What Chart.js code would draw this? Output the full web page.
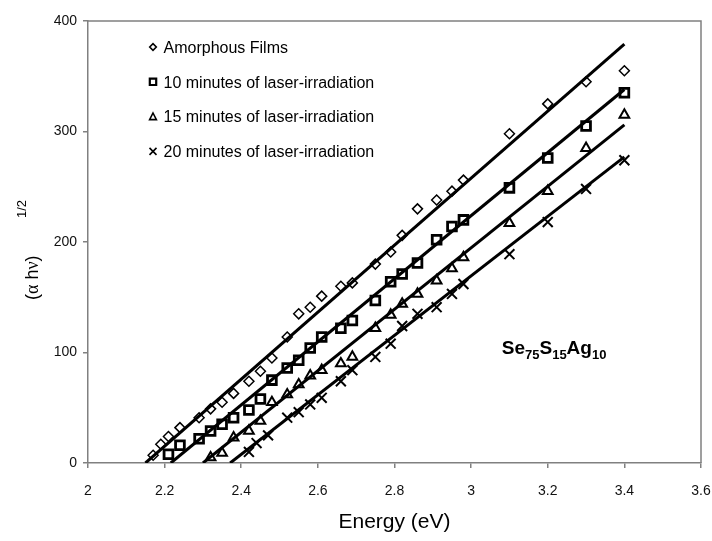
<!DOCTYPE html>
<html>
<head>
<meta charset="utf-8">
<script src="https://cdn.jsdelivr.net/npm/chart.js"></script>
<style>
  html, body { margin: 0; padding: 0; background: #fff; }
  #wrap { width: 712px; height: 541px; }
</style>
</head>
<body>
<div id="wrap"><canvas id="chart" width="712" height="541"></canvas></div>
<script>
// Energy (eV) and (alpha h nu)^1/2
const amorphX = [2.17, 2.19, 2.21, 2.24, 2.29, 2.32, 2.35, 2.38, 2.42, 2.45, 2.48, 2.52, 2.55, 2.58,
    2.61, 2.66, 2.69, 2.75, 2.79, 2.82, 2.86, 2.91, 2.95, 2.98, 3.1, 3.2, 3.3, 3.4];
const amorphY = [7, 17, 24, 32, 41, 49, 55, 63, 74, 83, 95, 114, 135, 141,
    151, 160, 163, 180, 191, 206, 230, 238, 246, 256, 298, 325, 345, 355];

const min10X = [2.21, 2.24, 2.29, 2.32, 2.35, 2.38, 2.42, 2.45, 2.48, 2.52, 2.55, 2.58, 2.61,
    2.66, 2.69, 2.75, 2.79, 2.82, 2.86, 2.91, 2.95, 2.98, 3.1, 3.2, 3.3, 3.4];
const min10Y = [8, 16, 22, 29, 35, 41, 48, 58, 75, 86, 93, 104, 114,
    122, 129, 147, 164, 171, 181, 202, 214, 220, 249, 276, 305, 335];

const min15X = [2.32, 2.35, 2.38, 2.42, 2.45, 2.48, 2.52, 2.55, 2.58, 2.61, 2.66, 2.69,
    2.75, 2.79, 2.82, 2.86, 2.91, 2.95, 2.98, 3.1, 3.2, 3.3, 3.4];
const min15Y = [5, 9, 23, 29, 38, 55, 62, 71, 79, 84, 90, 96,
    122, 134, 144, 153, 165, 176, 186, 217, 246, 285, 315];

const min20X = [2.42, 2.44, 2.47, 2.52, 2.55, 2.58, 2.61, 2.66, 2.69, 2.75, 2.79, 2.82,
    2.86, 2.91, 2.95, 2.98, 3.1, 3.2, 3.3, 3.4];
const min20Y = [10, 18, 25, 41, 46, 53, 59, 74, 84, 96, 108, 124,
    135, 141, 153, 162, 189, 218, 248, 274];

// straight fit lines, end points
const fitAmorphX = [2.15, 3.4], fitAmorphY = [0, 379];
const fit10X = [2.216, 3.4], fit10Y = [0, 338];
const fit15X = [2.30, 3.4], fit15Y = [0, 306];
const fit20X = [2.371, 3.4], fit20Y = [0, 277];

const seriesLabels = [
    'Amorphous Films',
    '10 minutes of laser-irradiation',
    '15 minutes of laser-irradiation',
    '20 minutes of laser-irradiation'
];

const xTicks = [2, 2.2, 2.4, 2.6, 2.8, 3, 3.2, 3.4, 3.6];
const yTicks = [0, 100, 200, 300, 400];

const SANS = '"Liberation Sans", Arial, sans-serif';
const SERIF = '"Liberation Serif", "DejaVu Serif", serif';

const pts = (xs, ys) => xs.map((x, i) => ({x: x, y: ys[i]}));

const fitLine = (xs, ys) => ({
    data: pts(xs, ys),
    showLine: true,
    borderColor: '#000',
    borderWidth: 3,
    pointRadius: 0,
    order: 0
});

const markers = (label, xs, ys, style, r, bw) => ({
    label: label,
    data: pts(xs, ys),
    showLine: false,
    pointStyle: style,
    pointRadius: r,
    borderColor: '#000',
    backgroundColor: 'rgba(0,0,0,0)',
    pointBorderWidth: bw,
    borderWidth: bw,
    order: 1
});

// legend drawn inside the plot, top left
const legendBox = {
    id: 'legendBox',
    afterDraw(chart) {
        const ctx = chart.ctx;
        const a = chart.chartArea;
        const styles = ['diamond', 'square', 'triangle', 'cross'];
        ctx.save();
        ctx.strokeStyle = '#000';
        ctx.fillStyle = '#000';
        ctx.font = '16px ' + SANS;
        ctx.textBaseline = 'alphabetic';
        seriesLabels.forEach((lab, i) => {
            const mx = a.left + 65;
            const my = a.top + 26 + i * 34.8;
            ctx.beginPath();
            if (styles[i] === 'diamond') {
                ctx.lineWidth = 1.6;
                ctx.moveTo(mx - 3.3, my); ctx.lineTo(mx, my - 3.3);
                ctx.lineTo(mx + 3.3, my); ctx.lineTo(mx, my + 3.3);
                ctx.closePath();
            } else if (styles[i] === 'square') {
                ctx.lineWidth = 2.2;
                ctx.rect(mx - 3.2, my - 3.2, 6.4, 6.4);
            } else if (styles[i] === 'triangle') {
                ctx.lineWidth = 1.6;
                ctx.moveTo(mx, my - 3.6); ctx.lineTo(mx + 3.4, my + 3);
                ctx.lineTo(mx - 3.4, my + 3);
                ctx.closePath();
            } else {
                ctx.lineWidth = 1.6;
                ctx.moveTo(mx - 3.5, my - 3.5); ctx.lineTo(mx + 3.5, my + 3.5);
                ctx.moveTo(mx + 3.5, my - 3.5); ctx.lineTo(mx - 3.5, my + 3.5);
            }
            ctx.stroke();
            ctx.fillText(lab, mx + 10.5, my + 5.8);
        });
        ctx.restore();
    }
};

// frame, y title with superscript and the composition label
const extras = {
    id: 'extras',
    beforeDatasetsDraw(chart) {
        const ctx = chart.ctx;
        const a = chart.chartArea;
        ctx.save();
        ctx.strokeStyle = '#808080';
        ctx.lineWidth = 1.5;
        ctx.beginPath();
        ctx.moveTo(a.left, a.top); ctx.lineTo(a.right, a.top); ctx.lineTo(a.right, a.bottom);
        ctx.stroke();
        ctx.restore();
    },
    afterDraw(chart) {
        const ctx = chart.ctx;
        const a = chart.chartArea;
        const xs = chart.scales.x, ys = chart.scales.y;
        ctx.save();
        ctx.fillStyle = '#000';
        // y axis title: (α hν) with 1/2 raised
        ctx.translate(a.left - 50, a.top + 279);
        ctx.rotate(-Math.PI / 2);
        ctx.textBaseline = 'alphabetic';
        let tx = 0;
        [['(', SANS], ['\u03b1', SERIF], [' h', SANS], ['\u03bd', SERIF], [')', SANS]].forEach(p => {
            ctx.font = '18px ' + p[1];
            ctx.fillText(p[0], tx, 0);
            tx += ctx.measureText(p[0]).width;
        });
        ctx.font = '13px ' + SANS;
        ctx.fillText('1/2', 82, -12);
        ctx.restore();

        // Se75S15Ag10
        ctx.save();
        ctx.fillStyle = '#000';
        ctx.textBaseline = 'alphabetic';
        let px = xs.getPixelForValue(3.08);
        const py = ys.getPixelForValue(99);
        const parts = [['Se', false], ['75', true], ['S', false], ['15', true], ['Ag', false], ['10', true]];
        parts.forEach(p => {
            ctx.font = p[1] ? 'bold 13px ' + SANS : 'bold 19px ' + SANS;
            ctx.fillText(p[0], px, p[1] ? py + 5 : py);
            px += ctx.measureText(p[0]).width;
        });
        ctx.restore();
    }
};

const config = {
    type: 'scatter',
    data: {
        datasets: [
            fitLine(fitAmorphX, fitAmorphY),
            fitLine(fit10X, fit10Y),
            fitLine(fit15X, fit15Y),
            fitLine(fit20X, fit20Y),
            markers(seriesLabels[0], amorphX, amorphY, 'rectRot', 5, 1.5),
            markers(seriesLabels[1], min10X, min10Y, 'rect', 6.2, 2.8),
            markers(seriesLabels[2], min15X, min15Y, 'triangle', 5.6, 2),
            markers(seriesLabels[3], min20X, min20Y, 'crossRot', 7, 2)
        ]
    },
    options: {
        responsive: false,
        animation: false,
        layout: { padding: { left: 0, right: 11, top: 21, bottom: 0 } },
        plugins: {
            legend: { display: false },
            tooltip: { enabled: false }
        },
        scales: {
            x: {
                type: 'linear',
                min: 2,
                max: 3.6,
                afterBuildTicks: s => { s.ticks = xTicks.map(v => ({value: v})); },
                afterFit: s => { s.height = 78; s.paddingLeft = 0; s.paddingRight = 0; },
                grid: { drawOnChartArea: false, drawTicks: true, tickLength: 5, color: '#808080', lineWidth: 1.5 },
                border: { display: true, color: '#808080', width: 1.5 },
                ticks: {
                    color: '#111',
                    padding: 15,
                    maxRotation: 0,
                    font: { family: SANS, size: 14 },
                    callback: v => String(Math.round(v * 10) / 10)
                },
                title: {
                    display: true,
                    text: 'Energy (eV)',
                    color: '#000',
                    padding: { top: 0, bottom: 6 },
                    font: { family: SANS, size: 21 }
                }
            },
            y: {
                min: 0,
                max: 400,
                afterBuildTicks: s => { s.ticks = yTicks.map(v => ({value: v})); },
                afterFit: s => { s.width = 88; },
                grid: { drawOnChartArea: false, drawTicks: true, tickLength: 5, color: '#808080', lineWidth: 1.5 },
                border: { display: true, color: '#808080', width: 1.5 },
                ticks: {
                    color: '#111',
                    padding: 6,
                    font: { family: SANS, size: 14 }
                }
            }
        }
    },
    plugins: [extras, legendBox]
};

const EnergyChart = new Chart(document.getElementById('chart'), config);
</script>
</body>
</html>
